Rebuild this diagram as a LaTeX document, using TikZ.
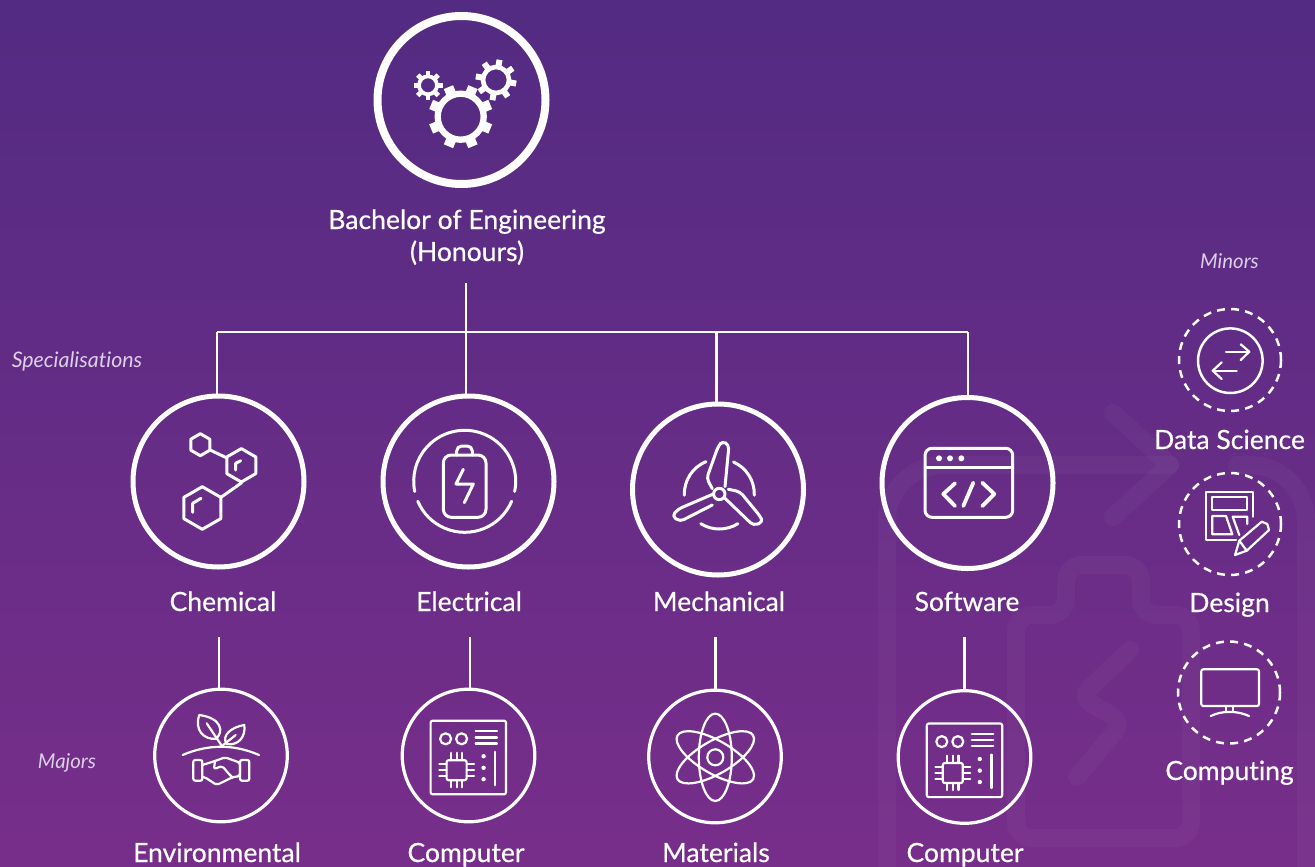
\documentclass[tikz,border=0pt]{standalone}
\usepackage{fontspec}
\setmainfont{Lato}[Ligatures=NoCommon]
\newfontfamily\labelfont{Lato}[FakeBold=0.5, Ligatures=NoCommon]
\definecolor{bgtop}{HTML}{532B82}
\definecolor{bgmid}{HTML}{622C86}
\definecolor{bgbottom}{HTML}{772E8A}
\definecolor{notecolor}{HTML}{DCCFE8}

% small macros for the repeated icon parts
\newcommand{\gearshape}[7]{%
  \draw [white, line width=#5] (#1,#2) circle [radius=#3];
  \foreach \a in {0,45,...,315} \draw [white, line width=#6] (#1,#2) ++(\a+#7:#3) -- ++(\a+#7:#4);
}
\tikzset{pics/boardicon/.style={code={
  \draw [rounded corners=1pt] (-37.7,-36.8) rectangle (37.7,36.8);
  \draw (-22.7,-18.7) circle [radius=5.5];
  \draw (-6.7,-18.7) circle [radius=5.5];
  \foreach \y in {-26.7,-20,-14} \draw (7.3,\y) -- (28.7,\y);
  \draw [rounded corners=1pt] (-21.7,2.7) rectangle (-1.7,22.7);
  \foreach \x in {-17.3,-11.7,-6} {
    \draw (\x,-4.7) -- (\x,2.7);
    \draw (\x,22.7) -- (\x,29.7);
  }
  \foreach \y in {6.7,12.7,18.7} {
    \draw (-29,\y) -- (-21.7,\y);
    \draw (-1.7,\y) -- (5.7,\y);
  }
  \foreach \y in {-1.3,10.3,21.7} \fill [white] (15.3,\y) circle [radius=2.2];
  \draw (27,-5.7) -- (27,27.7);
}}}

\begin{document}
\begin{tikzpicture}[x=0.5pt, y=-0.5pt]

% definitions
\tikzstyle{degree} = [circle, draw=white, line width=4pt, minimum size=84pt, inner sep=0pt]
\tikzstyle{special} = [circle, draw=white, line width=2.5pt, minimum size=85.5pt, inner sep=0pt]
\tikzstyle{major} = [circle, draw=white, line width=1.6pt, minimum size=66.3pt, inner sep=0pt]
\tikzstyle{minor} = [circle, draw=white, line width=1.25pt, dash pattern=on 4pt off 3.1pt, minimum size=51pt, inner sep=0pt]
\tikzstyle{title} = [anchor=base, text=white, inner sep=0pt, font=\labelfont\fontsize{13.25pt}{15pt}\selectfont]
\tikzstyle{note} = [anchor=base, text=notecolor, inner sep=0pt, font=\fontsize{10.2pt}{12pt}\selectfont\itshape]
\tikzstyle{link} = [draw=white, line width=1.1pt]
\tikzstyle{iconA} = [draw=white, line width=1.5pt, line cap=round, line join=round]
\tikzstyle{iconB} = [draw=white, line width=1.1pt, line cap=round, line join=round]
\tikzstyle{backdrop} = [draw=white, draw opacity=0.03, line width=9pt, line cap=round, line join=round]

\useasboundingbox (0,0) rectangle (1315,866);
\shade [top color=bgtop, middle color=bgmid, bottom color=bgbottom] (0,0) rectangle (1315,866);

% faint battery behind
\draw [backdrop, rounded corners=28pt] (887,880) -- (887,465) -- (1170,465);
\draw [backdrop] (1113,413) -- (1170,465) -- (1113,517);
\draw [backdrop, rounded corners=28pt] (1237,465) -- (1306,465) -- (1306,880);
\draw [backdrop, rounded corners=8pt] (1016,838) -- (1016,615) -- (1066,615) -- (1066,565) -- (1141,565) -- (1141,615) -- (1191,615) -- (1191,838) -- cycle;
\draw [backdrop, rounded corners=6pt] (1130,650) -- (1080,697) -- (1123,722) -- (1077,777);

% the graph
\node (bachelor) [degree] at (461.5,100) {};
\node (chemical) [special] at (218.5,481.5) {};
\node (electrical) [special] at (468.5,481.5) {};
\node (mechanical) [special] at (718,489.5) {};
\node (software) [special] at (967.5,483) {};
\node (environmental) [major] at (221,755.5) {};
\node (computera) [major] at (468.5,755.5) {};
\node (materials) [major] at (715,756.5) {};
\node (computerb) [major] at (964.5,757) {};
\node (datascience) [minor] at (1230,360) {};
\node (design) [minor] at (1230,524) {};
\node (computing) [minor] at (1229,692.5) {};

\node (l0) [title] at (467,229) {Bachelor of Engineering};
\node (l1) [title] at (467,261) {(Honours)};
\node (l2) [title] at (223,611) {Chemical};
\node (l3) [title] at (469,611) {Electrical};
\node (l4) [title] at (719,611) {Mechanical};
\node (l5) [title] at (967,611) {Software};
\node (l6) [title] at (217,862) {Environmental};
\node (l7) [title] at (466,862) {Computer};
\node (l8) [title] at (716,862) {Materials};
\node (l9) [title] at (965,862) {Computer};
\node (l10) [title] at (1229.5,449) {Data Science};
\node (l11) [title] at (1229.5,612) {Design};
\node (l12) [title] at (1229.5,780) {Computing};
\node (n0) [note] at (1229.5,268) {Minors};
\node (n1) [note, font=\fontsize{10.7pt}{12pt}\selectfont\itshape] at (77,367) {Specialisations};
\node (n2) [note] at (67,768) {Majors};

% connectors
\coordinate (stem) at (466,283);
\coordinate (busa) at (217,332);
\coordinate (busb) at (466,332);
\coordinate (busc) at (716.5,332);
\coordinate (busd) at (968,332);
\coordinate (dropa) at (219,637);
\coordinate (dropb) at (470,637);
\coordinate (dropc) at (715.5,637);
\coordinate (dropd) at (964.5,637);

\draw [link] (stem) -- (busb);
\draw [link] (busa) -- (busd);
\draw [link] (busa) -- (busa |- chemical.north);
\draw [link] (busb) -- (busb |- electrical.north);
\draw [link] (busc) -- (busc |- mechanical.north);
\draw [link] (busd) -- (busd |- software.north);
\draw [link] (dropa) -- (dropa |- environmental.north);
\draw [link] (dropb) -- (dropb |- computera.north);
\draw [link] (dropc) -- (dropc |- materials.north);
\draw [link] (dropd) -- (dropd |- computerb.north);

% gears
\gearshape{460.7}{116.7}{23}{9}{3.15pt}{5pt}{22.5}
\gearshape{428}{85.3}{9}{5.5}{1.9pt}{2.4pt}{0}
\gearshape{496}{80}{13}{7.5}{2.3pt}{3pt}{10}

% molecule
\draw [iconA] (200.3,433.7) -- ++(9.5,5.5) -- ++(0,11) -- ++(-9.5,5.5) -- ++(-9.5,-5.5) -- ++(0,-11) -- cycle;
\draw [iconA] (241.3,448.6) -- ++(14.5,8.35) -- ++(0,16.7) -- ++(-14.5,8.35) -- ++(-14.5,-8.35) -- ++(0,-16.7) -- cycle;
\draw [iconA] (202.3,486.7) -- ++(18.45,10.65) -- ++(0,21.3) -- ++(-18.45,10.65) -- ++(-18.45,-10.65) -- ++(0,-21.3) -- cycle;
\draw [iconA] (235.7,470) -- (235.7,463.3) -- (240.7,460.7);
\draw [iconA] (192.7,512.3) -- (192.7,503.3) -- (201,498.3);
\draw [iconA] (210,450) -- (227,458);
\draw [iconA] (241.7,482.7) -- (221,497.3);

% battery
\draw [iconA, rounded corners=4pt] (443.3,455) rectangle (486,517.3);
\draw [iconA, rounded corners=2.5pt] (456.7,455) -- (456.7,446) -- (472.3,446) -- (472.3,455);
\draw [iconA] (463.3,469.3) -- (456,484) -- (473.3,484) -- (464.3,502.7);
\draw [iconA] (464.7,481.3) ++(11.5:51) arc [start angle=11.5, end angle=-191.5, radius=51];
\draw [iconA] (464.7,481.3) ++(23:51) arc [start angle=23, end angle=157, radius=51];

% turbine
\draw [iconA] (719.3,494) circle [radius=5.7];
\draw [iconA, rounded corners=2pt] (712.3,488.7) -- (706.7,478.3) -- (718.3,446) -- (722.5,441) -- (729,445) -- (725,486.7);
\draw [iconA, rounded corners=2pt] (712.3,505) -- (680,521.5) -- (672,516) -- (678.3,509) -- (713.3,494);
\draw [iconA, rounded corners=2pt] (725,498.3) -- (753.3,525.5) -- (763,522) -- (760,516) -- (740,491.7) -- (728.3,489.3);
\draw [iconA] (719.3,494) ++(178:35) arc [start angle=178, end angle=247.6, radius=35];
\draw [iconA] (719.3,494) ++(-66:35) arc [start angle=-66, end angle=2, radius=35];
\draw [iconA] (719.3,494) ++(122:35) arc [start angle=122, end angle=58, radius=35];

% code window
\draw [iconA, rounded corners=3.5pt] (925,448.3) rectangle (1012.7,517.3);
\draw [iconA] (925,467.7) -- (1012.7,467.7);
\foreach \x in {939,950,961.3} \fill [white] (\x,458.3) circle [radius=3];
\draw [iconA, line width=1.9pt] (955,483.3) -- (943.3,494) -- (955,506);
\draw [iconA, line width=1.9pt] (973.3,482.7) -- (963.3,506);
\draw [iconA, line width=1.9pt] (982.3,482.7) -- (994.3,494) -- (982.3,506);

% plant and hands
\draw [iconB] (199.3,715) .. controls (222,718) and (224,732) .. (216,738.7) .. controls (204,740) and (194,730) .. cycle;
\draw [iconB] (206.7,723.3) -- (221.7,745.7);
\draw [iconB] (244.3,725) .. controls (246,737) and (238,746) .. (226.7,744) .. controls (221,735) and (232,727) .. cycle;
\draw [iconB] (235.7,735) -- (222.3,745.7);
\draw [iconB] (182.7,755) .. controls (208,744) and (234,744) .. (259,755);
\draw [iconB, rounded corners=1pt] (193.3,760) rectangle (202.3,780.7);
\draw [iconB, rounded corners=1pt] (240,760) rectangle (249.3,780.7);
\draw [iconB, rounded corners=1pt] (202.3,765) -- (215,761) -- (225,757.3) -- (240,762.7) -- (240,776) -- (232.3,777.3) -- (216.7,785) -- (205,777.3) -- (202.3,776.7);
\draw [iconB, rounded corners=1pt] (215,761) -- (214,769) -- (222.3,766) -- (228,773) -- (232.3,777.3);

% boards
\pic [iconB] at (468.3,757.5) {boardicon};
\pic [iconB] at (964.5,760.3) {boardicon};

% atom
\coordinate (atomc) at (715.3,757.3);
\draw [iconB] (atomc) circle [radius=8];
\draw [iconB] (atomc) ellipse [x radius=16.5, y radius=43.7];
\draw [iconB, rotate around={60:(atomc)}] (atomc) ellipse [x radius=16.5, y radius=43.7];
\draw [iconB, rotate around={-60:(atomc)}] (atomc) ellipse [x radius=16.5, y radius=43.7];

% arrows
\draw [iconB, line width=1.25pt] (1230.3,360.7) circle [radius=32.3];
\draw [iconB] (1226,351.7) -- (1249.3,351.7);
\draw [iconB] (1240.7,344.3) -- (1249.3,351.7) -- (1240.7,360);
\draw [iconB] (1236.7,370.7) -- (1212.7,370.7);
\draw [iconB] (1221.7,362.3) -- (1212.7,370.7) -- (1221.7,379);

% layout and pencil
\draw [iconB] (1252.7,516.7) -- (1252.7,491.7) -- (1205.7,491.7) -- (1205.7,540) -- (1236,540);
\draw [iconB] (1212.3,497.3) rectangle (1246.7,510);
\draw [iconB] (1212.3,516) -- (1226,516) -- (1232.3,534.3) -- (1212.3,534.3) -- cycle;
\draw [iconB] (1239.3,535) -- (1232.7,516.7) -- (1247.3,516.7) -- (1247.3,524);
\draw [iconB] (1235,555) -- (1239.3,540.7) -- (1261.7,521.7) -- (1267.3,524) -- (1269,530) -- (1246.7,550.7) -- cycle;
\draw [iconB] (1239.3,540.7) -- (1246.7,550.7);

% monitor
\draw [iconB, rounded corners=1pt] (1201.3,669.3) rectangle (1259,706);
\draw [iconB] (1226,706) -- (1226,712);
\draw [iconB] (1232.7,706) -- (1232.7,712);
\draw [iconB] (1210.7,716) .. controls (1222,710.5) and (1237,710.5) .. (1249,716);

\end{tikzpicture}
\end{document}
